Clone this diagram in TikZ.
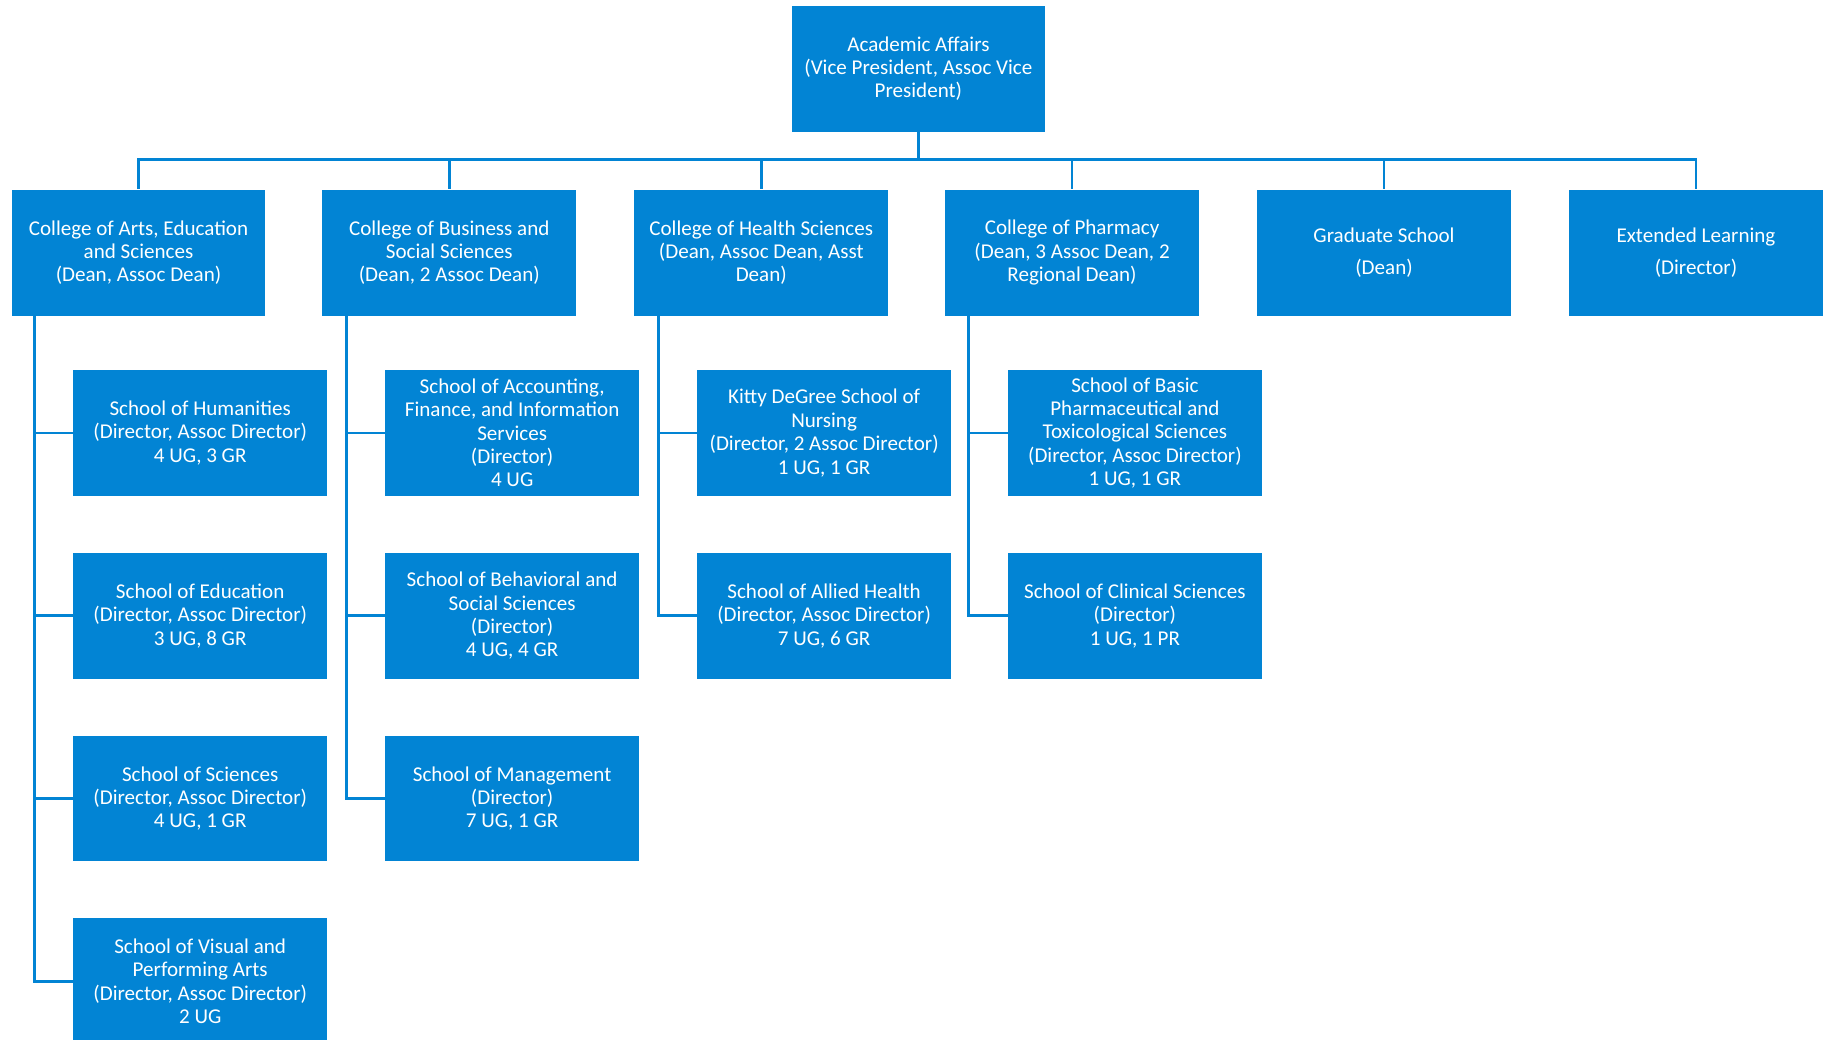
\documentclass[tikz,border=0pt]{standalone}
\usepackage{fontspec}
\setmainfont{Carlito}
\usepackage{tikz}

\definecolor{orgblue}{RGB}{2,132,212}

\tikzset{
    unit/.style={fill=orgblue,text=white,align=center,minimum width=5.08cm,minimum height=2.52cm,
        inner sep=1pt,font=\fontsize{12}{13.3}\selectfont},
    link/.style={draw=orgblue,line width=1.6pt}
}

\begin{document}
\begin{tikzpicture}[x=0.0233cm,y=-0.0233cm]
\useasboundingbox (0,0) rectangle (1567,893);
\clip (0,0) rectangle (1567,893);

% Top of the chart
\node[unit] (aa) at (789,59) {Academic Affairs\\(Vice President, Assoc Vice\\President)};
\coordinate (bus) at (789,137);

% Colleges
\node[unit] (arts) at (119,217) {College of Arts, Education\\and Sciences\\(Dean, Assoc Dean)};
\node[unit] (bus-soc) at (386,217) {College of Business and\\Social Sciences\\(Dean, 2 Assoc Dean)};
\node[unit] (health) at (654,217) {College of Health Sciences\\(Dean, Assoc Dean, Asst\\Dean)};
\node[unit] (pharm) at (921,217) {College of Pharmacy\\(Dean, 3 Assoc Dean, 2\\Regional Dean)};
\node[unit] (grad) at (1189,217) {Graduate School\\[5pt](Dean)};
\node[unit] (ext) at (1457,217) {Extended Learning\\[5pt](Director)};

\draw[link] (aa.south) -- (bus);
\foreach \c in {arts,bus-soc,health,pharm,grad,ext}
    \draw[link] (bus) -| (\c.north);

% Schools
\node[unit] (hum) at (172,372) {School of Humanities\\(Director, Assoc Director)\\4 UG, 3 GR};
\node[unit] (edu) at (172,529) {School of Education\\(Director, Assoc Director)\\3 UG, 8 GR};
\node[unit] (sci) at (172,686) {School of Sciences\\(Director, Assoc Director)\\4 UG, 1 GR};
\node[unit] (vpa) at (172,843) {School of Visual and\\Performing Arts\\(Director, Assoc Director)\\2 UG};

\node[unit] (acc) at (440,372) {School of Accounting,\\Finance, and Information\\Services\\(Director)\\4 UG};
\node[unit] (beh) at (440,529) {School of Behavioral and\\Social Sciences\\(Director)\\4 UG, 4 GR};
\node[unit] (mgt) at (440,686) {School of Management\\(Director)\\7 UG, 1 GR};

\node[unit] (nurs) at (708,372) {Kitty DeGree School of\\Nursing\\(Director, 2 Assoc Director)\\1 UG, 1 GR};
\node[unit] (allied) at (708,529) {School of Allied Health\\(Director, Assoc Director)\\7 UG, 6 GR};

\node[unit] (basic) at (975,372) {School of Basic\\Pharmaceutical and\\Toxicological Sciences\\(Director, Assoc Director)\\1 UG, 1 GR};
\node[unit] (clin) at (975,529) {School of Clinical Sciences\\(Director)\\1 UG, 1 PR};

% Lines down to the schools
\path (arts.south west) ++(20,0) coordinate (arts-l);
\path (bus-soc.south west) ++(21,0) coordinate (bus-soc-l);
\path (health.south west) ++(21,0) coordinate (health-l);
\path (pharm.south west) ++(20,0) coordinate (pharm-l);

\foreach \s in {hum,edu,sci,vpa}
    \draw[link] (arts-l) |- (\s.west);
\foreach \s in {acc,beh,mgt}
    \draw[link] (bus-soc-l) |- (\s.west);
\foreach \s in {nurs,allied}
    \draw[link] (health-l) |- (\s.west);
\foreach \s in {basic,clin}
    \draw[link] (pharm-l) |- (\s.west);
\end{tikzpicture}
\end{document}
